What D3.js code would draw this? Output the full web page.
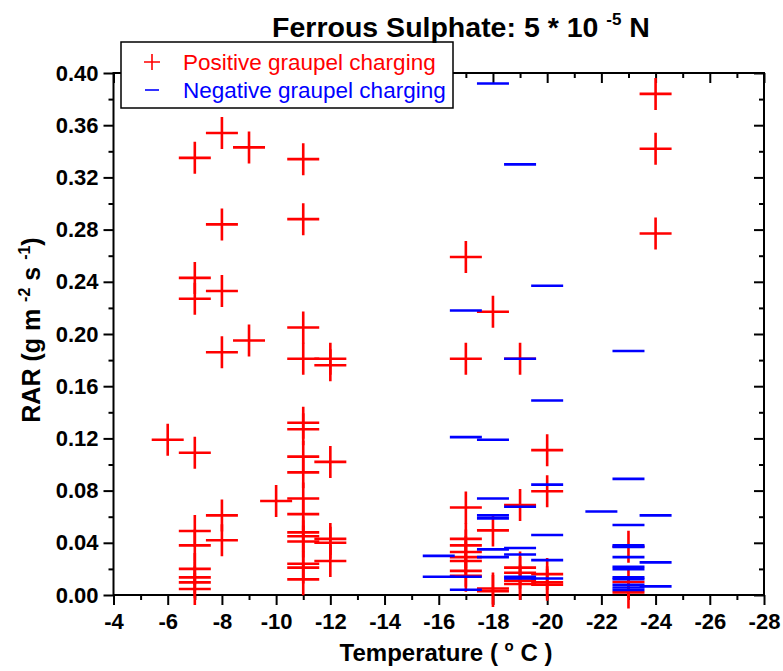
<!DOCTYPE html>
<html><head><meta charset="utf-8">
<script src="https://cdn.jsdelivr.net/npm/d3@7"></script>
<style>body{margin:0;background:#fff}svg{display:block}</style>
</head><body>
<script>
// ---- data ----
const positiveTemp = [-6,
  -7,-7,-7,-7,-7,-7,-7,-7,-7,-7,
  -8,-8,-8,-8,-8,-8,
  -9,-9,
  -10,
  -11,-11,-11,-11,-11,-11,-11,-11,-11,-11,-11,-11,-11,-11,-11,-11,
  -12,-12,-12,-12,-12,-12,
  -17,-17,-17,-17,-17,-17,-17,-17,-17,-17,
  -18,-18,-18,-18,
  -19,-19,-19,-19,-19,-19,
  -20,-20,-20,-20,-20,
  -23,-23,-23,
  -24,-24,-24];
const positiveRAR = [0.119,
  0.335,0.243,0.227,0.109,0.049,0.038,0.020,0.0135,0.0097,0.0046,
  0.354,0.284,0.233,0.186,0.061,0.042,
  0.343,0.195,
  0.072,
  0.334,0.288,0.205,0.181,0.132,0.127,0.106,0.094,0.074,0.062,0.048,0.045,0.041,0.024,0.021,0.012,
  0.181,0.176,0.102,0.043,0.040,0.026,
  0.259,0.181,0.067,0.043,0.038,0.033,0.029,0.026,0.0185,0.0147,
  0.217,0.0495,0.005,0.003,
  0.181,0.069,0.021,0.017,0.011,0.0084,
  0.111,0.0795,0.016,0.0097,0.0078,
  0.037,0.010,0.002,
  0.384,0.342,0.277];
const negativeTemp = [-16,-16,
  -17,-17,-17,-17,
  -18,-18,-18,-18,-18,-18,-18,
  -19,-19,-19,-19,-19,-19,-19,
  -20,-20,-20,-20,-20,-20,
  -22,
  -23,-23,-23,-23,-23,-23,-23,-23,-23,-23,-23,-23,-23,
  -24,-24,-24];
const negativeRAR = [0.030,0.014,
  0.218,0.121,0.014,0.004,
  0.392,0.119,0.074,0.061,0.0587,0.035,0.029,
  0.330,0.181,0.0676,0.036,0.031,0.014,0.0127,
  0.237,0.149,0.0846,0.046,0.0267,0.0127,
  0.064,
  0.187,0.089,0.0536,0.038,0.0368,0.029,0.0216,0.0198,0.0135,0.0122,0.0078,0.0058,0.0038,
  0.061,0.025,0.0066];
const xTickValues = [-4,-6,-8,-10,-12,-14,-16,-18,-20,-22,-24,-26,-28];
const xTickLabels = ["-4","-6","-8","-10","-12","-14","-16","-18","-20","-22","-24","-26","-28"];
const yTickValues = [0,0.04,0.08,0.12,0.16,0.20,0.24,0.28,0.32,0.36,0.40];
const yTickLabels = ["0.00","0.04","0.08","0.12","0.16","0.20","0.24","0.28","0.32","0.36","0.40"];
const legendLabels = ["Positive graupel charging","Negative graupel charging"];

// ---- layout ----
const W = 783, H = 671;
const L = 113.5, R = 764, T = 73, B = 595;
const FONT = "'Liberation Sans', Arial, Helvetica, sans-serif";
const RED = "#ff0000", BLUE = "#0000ff";

const svg = d3.select("body").append("svg").attr("width", W).attr("height", H)
  .style("font-family", FONT);

const x = d3.scaleLinear().domain([-4, -28]).range([L, R]);
const y = d3.scaleLinear().domain([0, 0.40]).range([B, T]);

const xMinor = d3.range(-5, -28, -2);
const yMinor = d3.range(0.02, 0.40, 0.04);

function styleAxis(g) {
  g.select(".domain").remove();
  g.selectAll("line").attr("stroke", "#000").attr("stroke-width", 2);
  g.selectAll("text").attr("font-family", FONT).attr("font-weight", "bold")
    .attr("font-size", 22).attr("fill", "#000");
}

// bottom axis
svg.append("g").attr("transform", `translate(0,${B})`)
  .call(d3.axisBottom(x).tickValues(xTickValues).tickSize(10).tickPadding(8)
    .tickFormat((d, i) => xTickLabels[i])).call(styleAxis);
svg.append("g").attr("transform", `translate(0,${B})`)
  .call(d3.axisBottom(x).tickValues(xMinor).tickSize(5).tickFormat("")).call(styleAxis);
// top axis (inward)
svg.append("g").attr("transform", `translate(0,${T})`)
  .call(d3.axisTop(x).tickValues(xTickValues).tickSize(-10).tickFormat("")).call(styleAxis);
svg.append("g").attr("transform", `translate(0,${T})`)
  .call(d3.axisTop(x).tickValues(xMinor).tickSize(-5).tickFormat("")).call(styleAxis);
// left axis
svg.append("g").attr("transform", `translate(${L},0)`)
  .call(d3.axisLeft(y).tickValues(yTickValues).tickSize(10).tickPadding(5)
    .tickFormat((d, i) => yTickLabels[i])).call(styleAxis);
svg.append("g").attr("transform", `translate(${L},0)`)
  .call(d3.axisLeft(y).tickValues(yMinor).tickSize(5).tickFormat("")).call(styleAxis);
// right axis (inward)
svg.append("g").attr("transform", `translate(${R},0)`)
  .call(d3.axisRight(y).tickValues(yTickValues).tickSize(-10).tickFormat("")).call(styleAxis);
svg.append("g").attr("transform", `translate(${R},0)`)
  .call(d3.axisRight(y).tickValues(yMinor).tickSize(-5).tickFormat("")).call(styleAxis);

// frame
svg.append("rect").attr("x", L).attr("y", T).attr("width", R - L).attr("height", B - T)
  .attr("fill", "none").attr("stroke", "#000").attr("stroke-width", 2);

// ---- marks ----
const half = 16;
const pos = positiveTemp.map((t, i) => ({t, v: positiveRAR[i]}));
const neg = negativeTemp.map((t, i) => ({t, v: negativeRAR[i]}));

const gp = svg.append("g").attr("stroke", RED).attr("stroke-width", 2.6).attr("fill", "none");
gp.selectAll("path").data(pos).join("path")
  .attr("d", d => {
    const cx = x(d.t), cy = y(d.v);
    return `M${cx - half},${cy}H${cx + half}M${cx},${cy - half}V${cy + half}`;
  });

const gn = svg.append("g").attr("stroke", BLUE).attr("stroke-width", 2.6);
gn.selectAll("line").data(neg).join("line")
  .attr("x1", d => x(d.t) - half).attr("x2", d => x(d.t) + half)
  .attr("y1", d => y(d.v)).attr("y2", d => y(d.v));

// ---- legend ----
const lg = svg.append("g");
lg.append("rect").attr("x", 121).attr("y", 42).attr("width", 332).attr("height", 66)
  .attr("fill", "#fff").attr("stroke", "#000").attr("stroke-width", 1.5);
lg.append("path").attr("d", "M144,62H160M152,54V70").attr("stroke", RED).attr("stroke-width", 1.6);
lg.append("line").attr("x1", 145).attr("x2", 159).attr("y1", 90).attr("y2", 90)
  .attr("stroke", BLUE).attr("stroke-width", 1.6);
lg.append("text").attr("x", 183).attr("y", 70).attr("font-size", 22.5).attr("fill", RED)
  .text(legendLabels[0]);
lg.append("text").attr("x", 183).attr("y", 98).attr("font-size", 22.5).attr("fill", BLUE)
  .text(legendLabels[1]);

// ---- titles ----
const title = svg.append("text").attr("x", 461).attr("y", 37).attr("text-anchor", "middle")
  .attr("font-size", 28.5).attr("font-weight", "bold");
title.append("tspan").text("Ferrous Sulphate: 5 * 10 ");
title.append("tspan").attr("font-size", 17).attr("dy", -12).text("-5");
title.append("tspan").attr("dy", 12).text(" N");

const xt = svg.append("text").attr("x", 446).attr("y", 661).attr("text-anchor", "middle")
  .attr("font-size", 24).attr("font-weight", "bold");
xt.append("tspan").text("Temperature ( ");
xt.append("tspan").attr("font-size", 15).attr("dy", -10).text("o");
xt.append("tspan").attr("dy", 10).text(" C )");

const yt = svg.append("text").attr("transform", "translate(40,330) rotate(-90)")
  .attr("text-anchor", "middle").attr("font-size", 25).attr("font-weight", "bold");
yt.append("tspan").text("RAR (g m ");
yt.append("tspan").attr("font-size", 16).attr("dy", -10).text("-2");
yt.append("tspan").attr("dy", 10).text(" s ");
yt.append("tspan").attr("font-size", 16).attr("dy", -10).text("-1");
yt.append("tspan").attr("dy", 10).text(")");
</script>
</body></html>
